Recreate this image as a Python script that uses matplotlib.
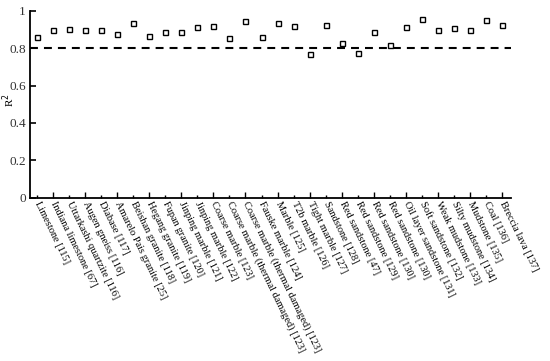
import matplotlib
matplotlib.use("Agg")
import matplotlib.pyplot as plt

# ---------- data ----------
rock_labels = [
    "Limestone [115]", "Indiana limestone [67]", "Uttarkashi quartzite [116]",
    "Augen gneiss [116]", "Diabase [117]", "Amarelo Pais granite [25]",
    "Beishan granite [118]", "Hegang granite [119]", "Fupan granite [120]",
    "Jinping marble [121]", "Jinping marble [122]", "Coarse marble [123]",
    "Coarse marble (thermal damaged) [123]", "Coarse marble (thermal damaged) [123]",
    "Fauske marble [124]", "Marble [125]", "T2b marble [126]", "Tight marble [127]",
    "Sandstone [128]", "Red sandstone [47]", "Red sandstone [129]",
    "Red sandstone [130]", "Red sandstone [130]", "Oil layer sandstone [131]",
    "Soft sandstone [132]", "Weak mudstone [133]", "Silty mudstone [134]",
    "Mudstone [135]", "Coal [136]", "Breccia lava [137]",
]
r2_values = [
    0.863, 0.897, 0.904, 0.900, 0.900, 0.879, 0.934, 0.868, 0.888, 0.886,
    0.916, 0.922, 0.854, 0.947, 0.861, 0.938, 0.922, 0.772, 0.924, 0.829,
    0.774, 0.888, 0.820, 0.915, 0.956, 0.900, 0.908, 0.900, 0.952, 0.924,
]
threshold = 0.8
y_ticks = [0, 0.2, 0.4, 0.6, 0.8, 1]
y_tick_labels = ["0", "0.2", "0.4", "0.6", "0.8", "1"]

plt.rcParams["font.family"] = ["Liberation Serif", "DejaVu Serif"]

fig = plt.figure(figsize=(5.5, 3.61), dpi=100)
ax = fig.add_axes([0.0545, 0.4526, 0.875, 0.517])

x = list(range(len(r2_values)))
ax.plot(x, r2_values, linestyle="none", marker="s", markersize=3.6,
        markerfacecolor="white", markeredgecolor="black", markeredgewidth=1.0,
        zorder=3)
ax.axhline(threshold, color="black", lw=1.5, dashes=(3.8, 2.9), zorder=2)

ax.set_xlim(-0.42, 29.55)
ax.set_ylim(0, 1)

# alternating long / short ticks, every tick labelled
major_x = [i for i in x if i % 2 == 1]
minor_x = [i for i in x if i % 2 == 0]
ax.set_xticks(major_x, [rock_labels[i] for i in major_x])
ax.set_xticks(minor_x, [rock_labels[i] for i in minor_x], minor=True)
for lab in ax.get_xticklabels(which="both"):
    lab.set_rotation(-64)
    lab.set_rotation_mode("anchor")
    lab.set_ha("left")
    lab.set_va("center")
    lab.set_fontsize(7.5)

ax.tick_params(axis="x", which="major", direction="in", length=4.5, width=1.0, pad=3)
ax.tick_params(axis="x", which="minor", direction="in", length=2.5, width=1.0, pad=3)

ax.set_yticks(y_ticks, y_tick_labels)
ax.tick_params(axis="y", direction="in", length=4.5, width=1.2, labelsize=9.5,
               colors="black", labelcolor="#333333", pad=3)
ax.set_ylabel("R$^2$", fontsize=8)
ax.yaxis.set_label_coords(-0.026, 0.52)

for side in ["top", "right"]:
    ax.spines[side].set_visible(False)
for side in ["left", "bottom"]:
    ax.spines[side].set_linewidth(1.3)

fig.savefig("out.png", dpi=100)
